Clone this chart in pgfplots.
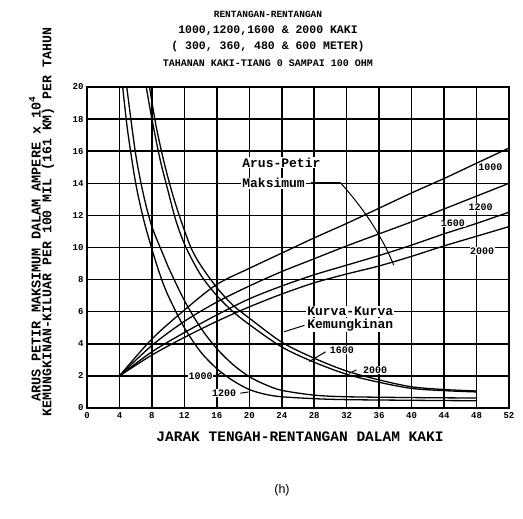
\documentclass[border=0pt]{standalone}
\usepackage{fontspec}
\setmainfont{Liberation Sans}
\setmonofont{Liberation Mono}
\usepackage{pgfplots}
\pgfplotsset{compat=1.18}
\newcommand{\lt}[1]{\ttfamily\bfseries\fontsize{#1}{#1}\selectfont}
\begin{document}
\begin{tikzpicture}[x=1pt,y=1pt]
\begin{axis}[
  at={(0,0)}, anchor=south west,
  scale only axis, width=422pt, height=321pt,
  xmin=0, xmax=52, ymin=0, ymax=20,
  xtick={0,4,...,52}, ytick={0,2,...,20},
  grid=major,
  major grid style={black, line width=1.5pt},
  axis line style={black, line width=1.6pt},
  major tick length=0pt,
  ticklabel style={font=\lt{9}},
  /pgf/number format/assume math mode=true,
  xticklabel style={yshift=-1pt},
  every axis plot post/.append style={black, solid, line width=1.3pt, mark=none, smooth, tension=0.5},
]
% white boxes for labels (drawn over grid, under curves)
\node[fill=white, anchor=west, inner sep=1pt, font=\lt{13}] at (axis cs:19,15.3) {Arus-Petir};
\node[fill=white, anchor=west, inner sep=1pt, font=\lt{13}] at (axis cs:19,14.0) {Maksimum};
\node[fill=white, anchor=west, inner sep=1pt, font=\lt{13}] at (axis cs:27,6.0) {Kurva-Kurva};
\node[fill=white, anchor=west, inner sep=1pt, font=\lt{13}] at (axis cs:27,5.15) {Kemungkinan};
% rising curves: maximum lightning current (spans 1000, 1200, 1600, 2000 ft)
\addplot coordinates {(4,2) (8,4.3) (12,6.1) (16,7.7) (20,8.7) (24,9.65) (28,10.6) (32,11.5) (36,12.45) (40,13.4) (44,14.3) (48,15.25) (52,16.2)};
\addplot coordinates {(4,2) (8,3.9) (12,5.4) (16,6.6) (20,7.6) (24,8.5) (28,9.3) (32,10.1) (36,10.85) (40,11.6) (44,12.4) (48,13.2) (52,14.0)};
\addplot coordinates {(4,2) (8,3.5) (12,4.7) (16,5.8) (20,6.8) (24,7.6) (28,8.3) (32,8.9) (36,9.5) (40,10.15) (44,10.85) (48,11.5) (52,12.2)};
\addplot coordinates {(4,2) (8,3.3) (12,4.4) (16,5.4) (20,6.3) (24,7.1) (28,7.8) (32,8.35) (36,8.85) (40,9.45) (44,10.1) (48,10.7) (52,11.3)};
% falling curves: outage probability
\addplot coordinates {(4.4,20) (5,17.3) (6,14.0) (7,11.7) (8,9.9) (9,8.3) (10,7.0) (12,5.0) (14,3.5) (16,2.45) (18,1.7) (20,1.15) (22,0.85) (24,0.7) (28,0.58) (32,0.52) (40,0.48) (48,0.45)};
\addplot coordinates {(4.9,20) (6,15.8) (7,13.2) (8,11.3) (9.35,9.6) (10,8.8) (12,6.7) (14,5.0) (16,3.7) (18,2.7) (20,1.95) (22,1.45) (24,1.1) (28,0.8) (32,0.7) (40,0.65) (48,0.62)};
\addplot coordinates {(7.3,20) (8,18.0) (9,15.5) (10,13.5) (11,11.6) (12.2,10.0) (14,8.3) (16,7.0) (18,6.0) (20,5.2) (24,3.8) (28,2.85) (32,2.1) (36,1.6) (40,1.22) (44,1.08) (48,1.0)};
\addplot coordinates {(7.7,20) (8.5,17.6) (9.5,15.3) (10.5,13.4) (11.5,11.8) (12.8,10.0) (14,8.9) (16,7.5) (18,6.4) (20,5.6) (24,4.1) (28,3.1) (32,2.3) (36,1.75) (40,1.32) (44,1.15) (48,1.06)};
% leaders
\draw[black, line width=1pt] (axis cs:27.6,14.05) -- (axis cs:31.2,14.05);
\draw[black, line width=1pt] (axis cs:31.2,14.05) .. controls (axis cs:34.5,12.2) and (axis cs:36.5,10.5) .. (axis cs:37.8,8.9);
\draw[black, line width=1pt] (axis cs:24.5,6.0) -- (axis cs:26.8,6.0);
\draw[black, line width=1pt] (axis cs:24.3,4.75) -- (axis cs:26.8,5.15);
\draw[black, line width=1pt] (axis cs:29.4,3.5) -- (axis cs:27.4,2.9);
\draw[black, line width=1pt] (axis cs:33.2,2.37) -- (axis cs:32.3,2.16);
\draw[black, line width=1pt] (axis cs:15.8,2.0) -- (axis cs:16.6,2.2);
\draw[black, line width=1pt] (axis cs:18.9,0.92) -- (axis cs:19.9,1.0);
% span labels
\node[fill=white, inner sep=0.5pt, font=\lt{10}] at (axis cs:49.7,15.0) {1000};
\node[fill=white, inner sep=0.5pt, font=\lt{10}] at (axis cs:48.5,12.5) {1200};
\node[fill=white, inner sep=0.5pt, font=\lt{10}] at (axis cs:45.1,11.5) {1600};
\node[fill=white, inner sep=0.5pt, font=\lt{10}] at (axis cs:48.7,9.8) {2000};
\node[fill=white, inner sep=0.5pt, font=\lt{10}] at (axis cs:14.0,2.0) {1000};
\node[fill=white, inner sep=0.5pt, font=\lt{10}] at (axis cs:16.9,0.92) {1200};
\node[fill=white, inner sep=0.5pt, font=\lt{10}] at (axis cs:31.4,3.6) {1600};
\node[fill=white, inner sep=0.5pt, font=\lt{10}] at (axis cs:35.5,2.37) {2000};
\end{axis}
% titles
\node[font=\lt{9.5}] at (181,394) {RENTANGAN-RENTANGAN};
\node[font=\lt{11.5}] at (181,377) {1000,1200,1600 \& 2000 KAKI};
\node[font=\lt{11.5}] at (181,361) {( 300, 360, 480 \& 600 METER)};
\node[font=\lt{10}] at (181,345) {TAHANAN KAKI-TIANG 0 SAMPAI 100 OHM};
% y labels
\node[rotate=90, font=\lt{13.5}] at (-52,159) {ARUS PETIR MAKSIMUM DALAM AMPERE x 10\textsuperscript{4}};
\node[rotate=90, font=\lt{13.2}] at (-39,186) {KEMUNGKINAN-KILUAR PER 100 MIL (161 KM) PER TAHUN};
% x label
\node[font=\lt{14.5}] at (213,-29) {JARAK TENGAH-RENTANGAN DALAM KAKI};
\node[font=\rmfamily\fontsize{12.5}{12.5}\selectfont] at (195,-82) {(h)};
\pgfresetboundingbox
\path[use as bounding box] (-87,-111) rectangle (436,408);
\end{tikzpicture}
\end{document}
